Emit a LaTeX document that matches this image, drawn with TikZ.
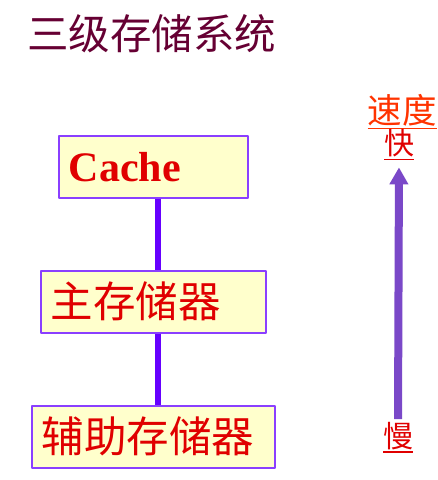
\documentclass[tikz,border=0pt]{standalone}
\usepackage{fontspec}
\setmainfont{Liberation Serif}
\newfontfamily\cjk{Noto Sans CJK SC}
\usetikzlibrary{arrows.meta}
\definecolor{titlecol}{HTML}{660033}
\definecolor{boxfill}{HTML}{FFFFCC}
\definecolor{boxline}{HTML}{8A3FFF}
\definecolor{memred}{HTML}{E00000}
\definecolor{linkcol}{HTML}{6600FF}
\definecolor{speedcol}{HTML}{FF3300}
\definecolor{arrowcol}{HTML}{7A48C8}
\newcommand\undl[1]{\vtop{\hbox{#1}\kern1.5pt\hrule height 1.2pt}}
\begin{document}
\begin{tikzpicture}[x=1pt, y=-1pt, line join=round,
	membox/.style={draw=boxline, fill=boxfill, line width=1.5pt, minimum height=62pt, inner xsep=10pt, inner ysep=0pt, anchor=north west, align=left, text=memred},
	link/.style={draw=linkcol, line width=6pt},
	ulabel/.style={inner sep=0pt, font=\cjk\fontsize{30}{30}\selectfont, text=memred}]
	\useasboundingbox (0,0) rectangle (438,480);
	\node at (27,34) [anchor=west, inner sep=0pt, text=titlecol, font=\cjk\fontsize{41.5}{41.5}\selectfont] (title) {三级存储系统};
	% storage levels
	\node[membox, text width=169pt, font=\bfseries\fontsize{42}{42}\selectfont] (cache) at (58,135) {Cache};
	\node[membox, text width=205pt, font=\cjk\fontsize{42.5}{42.5}\selectfont] (mainmem) at (40,270) {主存储器};
	\node[membox, text width=223pt, font=\cjk\fontsize{42.5}{42.5}\selectfont] (auxmem) at (31,405) {辅助存储器};
	\draw[link] ([xshift=4.5pt]cache.south) -- ([xshift=4.5pt]mainmem.north);
	\draw[link] ([xshift=4.5pt]mainmem.south) -- ([xshift=4.5pt]auxmem.north);
	% speed scale
	\node at (402,111.5) [ulabel, font=\cjk\fontsize{34.5}{34.5}\selectfont, text=speedcol] (speed) {\undl{速度}};
	\node at (399,145) [ulabel] (fast) {\undl{快}};
	\node at (398,437.5) [ulabel] (slow) {\undl{慢}};
	\draw[arrowcol, line width=8pt, -{Triangle[width=18pt,length=17pt]}, shorten <=3pt, shorten >=7pt] (slow.north) -- (fast.south);
\end{tikzpicture}
\end{document}
